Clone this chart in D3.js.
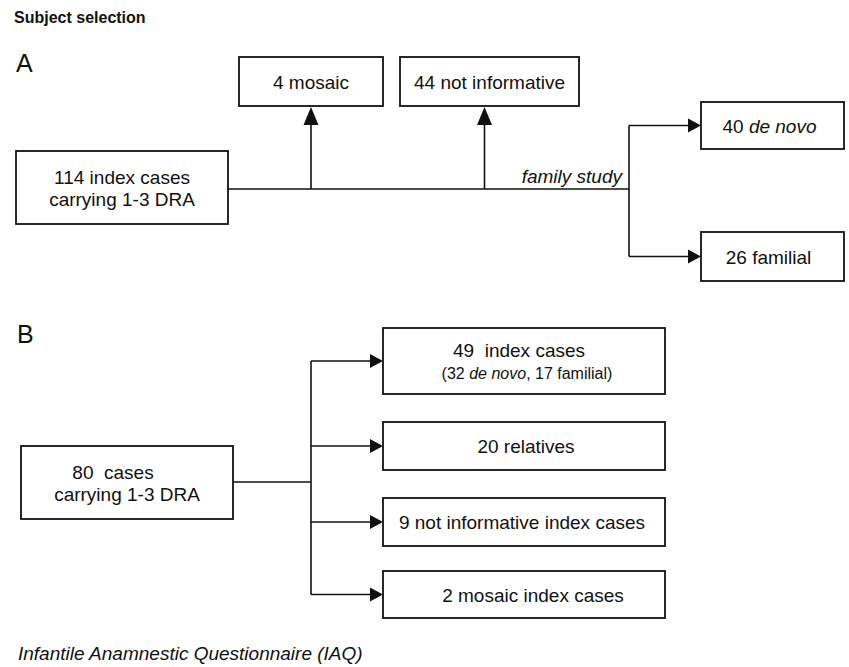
<!DOCTYPE html>
<html>
<head>
<meta charset="utf-8">
<script src="https://cdn.jsdelivr.net/npm/d3@7"></script>
<style>
  body { margin: 0; background: #fff; }
  text { font-family: "Liberation Sans", Arial, sans-serif; fill: #111; white-space: pre; }
</style>
</head>
<body>
<svg id="chart" width="849" height="667"></svg>
<script>
// labels of the flow chart (*...* = italic)
const title = "Subject selection";
const footnote = "Infantile Anamnestic Questionnaire (IAQ)";
const panelLabels = ["A", "B"];

const aSource = ["114 index cases", "carrying 1-3 DRA"];
const aExcluded = [["4 mosaic"], ["44 not informative"]];
const aBranchLabel = "family study";
const aOutcomes = [["40 *de novo*"], ["26 familial"]];

const bSource = ["80  cases", "carrying 1-3 DRA"];
const bOutcomes = [
  ["49  index cases", "(32 *de novo*, 17 familial)"],
  ["20 relatives"],
  ["9 not informative index cases"],
  ["2 mosaic index cases"]
];

const svg = d3.select("#chart");
const ink = "#111";

// layout of the boxes
const layoutA = {
  source: { x: 16, y: 151, w: 212, h: 73 },
  trunkY: 189,
  excluded: [{ x: 239, y: 57, w: 144, h: 49 }, { x: 400, y: 57, w: 179, h: 49 }],
  branchX: 629,
  outcomes: [{ x: 701, y: 102, w: 143, h: 47, dx: -3 }, { x: 701, y: 232, w: 143, h: 49, dx: -4 }]
};
const layoutB = {
  source: { x: 21, y: 446, w: 212, h: 73, dxs: [-14, 0] },
  trunkY: 482,
  branchX: 311,
  outcomes: [
    { x: 383, y: 328, w: 282, h: 66, dxs: [-5, 3], sizes: [19, 16] },
    { x: 383, y: 422, w: 282, h: 48, dx: 2 },
    { x: 383, y: 498, w: 282, h: 48, dx: -2 },
    { x: 383, y: 571, w: 282, h: 47, dx: 9 }
  ]
};

function addRich(sel, str) {
  str.split(/(\*[^*]+\*)/).filter(Boolean).forEach(part => {
    const it = part.startsWith("*");
    sel.append("tspan")
      .attr("font-style", it ? "italic" : null)
      .text(it ? part.slice(1, -1) : part);
  });
}

function box(b, lines) {
  svg.append("rect")
    .attr("x", b.x).attr("y", b.y).attr("width", b.w).attr("height", b.h)
    .attr("fill", "#fff").attr("stroke", ink).attr("stroke-width", 1.8);
  const cy = b.y + b.h / 2;
  const lh = 22;
  lines.forEach((ln, i) => {
    const t = svg.append("text")
      .attr("x", b.x + b.w / 2 + ((b.dxs && b.dxs[i]) || b.dx || 0))
      .attr("y", cy - (lines.length - 1) * lh / 2 + i * lh + 7)
      .attr("text-anchor", "middle")
      .attr("font-size", (b.sizes && b.sizes[i]) || 19);
    addRich(t, ln);
  });
}

function line(pts) {
  svg.append("path")
    .attr("d", d3.line()(pts))
    .attr("fill", "none").attr("stroke", ink).attr("stroke-width", 1.6);
}

// arrow from p0 to p1 with filled head
function arrow(p0, p1, len, half) {
  const dx = p1[0] - p0[0], dy = p1[1] - p0[1];
  const d = Math.hypot(dx, dy), ux = dx / d, uy = dy / d;
  const base = [p1[0] - ux * len, p1[1] - uy * len];
  line([p0, base]);
  svg.append("path")
    .attr("d", d3.line()([p1,
      [base[0] - uy * half, base[1] + ux * half],
      [base[0] + uy * half, base[1] - ux * half]]) + "Z")
    .attr("fill", ink);
}

// titles
svg.append("text").attr("x", 14).attr("y", 23)
  .attr("font-size", 16).attr("font-weight", "bold").text(title);
svg.append("text").attr("x", 16).attr("y", 72).attr("font-size", 25).text(panelLabels[0]);
svg.append("text").attr("x", 17).attr("y", 343).attr("font-size", 25).text(panelLabels[1]);

// ---- panel A
const A = layoutA;
line([[A.source.x + A.source.w, A.trunkY], [A.branchX, A.trunkY]]);
A.excluded.forEach(b => {
  const ax = b.x + b.w / 2 - (b === A.excluded[0] ? 0 : 5);
  arrow([ax, A.trunkY], [ax, b.y + b.h + 1], 18, 7.5);
});
line([[A.branchX, A.outcomes[0].y + A.outcomes[0].h / 2],
      [A.branchX, A.outcomes[1].y + A.outcomes[1].h / 2]]);
A.outcomes.forEach(b => {
  const ay = b.y + b.h / 2;
  arrow([A.branchX, ay], [b.x, ay], 13, 7);
});
box(A.source, aSource);
A.excluded.forEach((b, i) => box(b, aExcluded[i]));
A.outcomes.forEach((b, i) => box(b, aOutcomes[i]));
svg.append("text").attr("x", 622).attr("y", 183)
  .attr("text-anchor", "end").attr("font-size", 19).attr("font-style", "italic")
  .text(aBranchLabel);

// ---- panel B
const B = layoutB;
line([[B.source.x + B.source.w, B.trunkY], [B.branchX, B.trunkY]]);
const bys = B.outcomes.map(b => b.y + b.h / 2);
line([[B.branchX, d3.min(bys)], [B.branchX, d3.max(bys)]]);
B.outcomes.forEach((b, i) => arrow([B.branchX, bys[i]], [b.x, bys[i]], 13, 7));
box(B.source, bSource);
B.outcomes.forEach((b, i) => box(b, bOutcomes[i]));

// footnote
svg.append("text").attr("x", 18).attr("y", 660)
  .attr("font-size", 19).attr("font-style", "italic").text(footnote);
</script>
</body>
</html>
